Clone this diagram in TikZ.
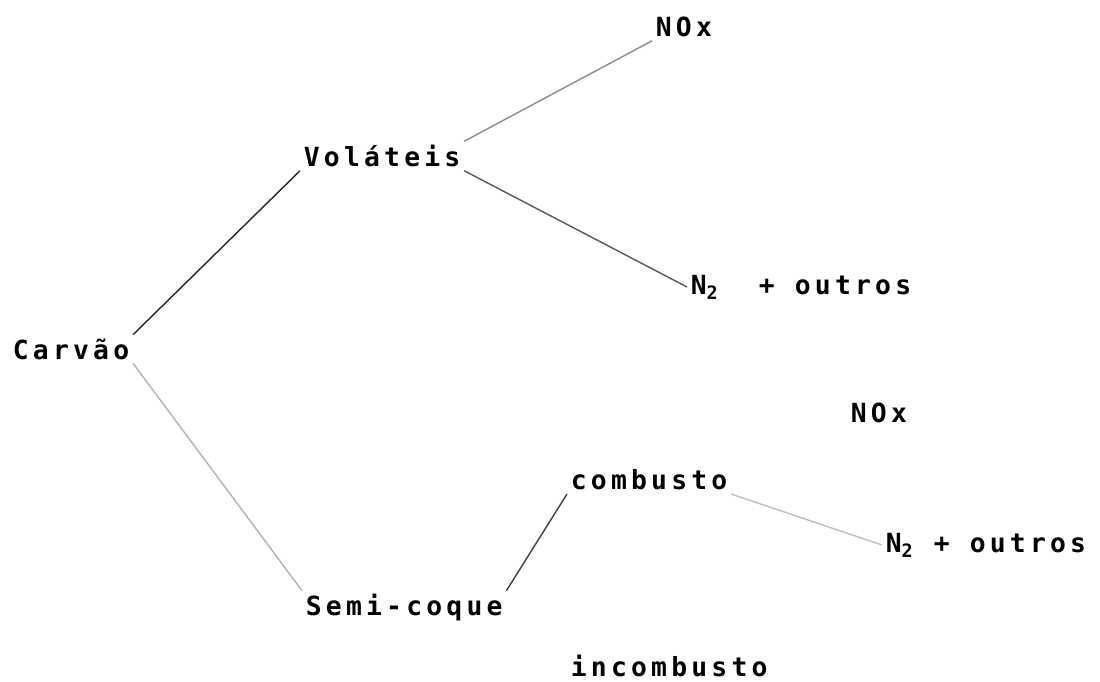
\documentclass[tikz,border=0pt]{standalone}
\usepackage{fontspec}
\setmonofont{DejaVu Sans Mono}[LetterSpace=16]
\tikzset{
  term/.style={anchor=west, inner sep=2pt, font=\ttfamily\bfseries\fontsize{15}{17}\selectfont},
  branch/.style={line width=0.8pt, black!#1},
  branch/.default=85
}
\begin{document}
\begin{tikzpicture}
                \useasboundingbox (0,0) rectangle (22,13.62);
%
                \node [term] (carvao) at (0.18,6.64) {Carvão};
                \node [term] (volateis) at (6.00,10.50) {Voláteis};
                \node [term] (semicoque) at (6.04,1.46) {Semi-coque};
%
                \node [term] (noxa) at (13.04,13.08) {NOx};
                \node [term] (ntwoa) at (13.74,7.88) {N\textsubscript{2}\ \ + outros};
%
                \node [term] (noxb) at (16.94,5.36) {NOx};
                \node [term] (combusto) at (11.34,4.02) {combusto};
                \node [term] (ntwob) at (17.64,2.72) {N\textsubscript{2} + outros};
                \node [term, anchor=base west] (incombusto) at (11.34,0.10) {incombusto};
%
                \draw [branch] (carvao.north east) -- (volateis.south west);
                \draw [branch=30] (carvao.south east) -- (semicoque.north west);
                \draw [branch=45] (volateis.north east) -- (noxa.south west);
                \draw [branch=65] (volateis.south east) -- (ntwoa.west);
                \draw [branch=75] (semicoque.north east) -- (combusto.south west);
                \draw [branch=25] (combusto.south east) -- (ntwob.west);
\end{tikzpicture}
\end{document}
